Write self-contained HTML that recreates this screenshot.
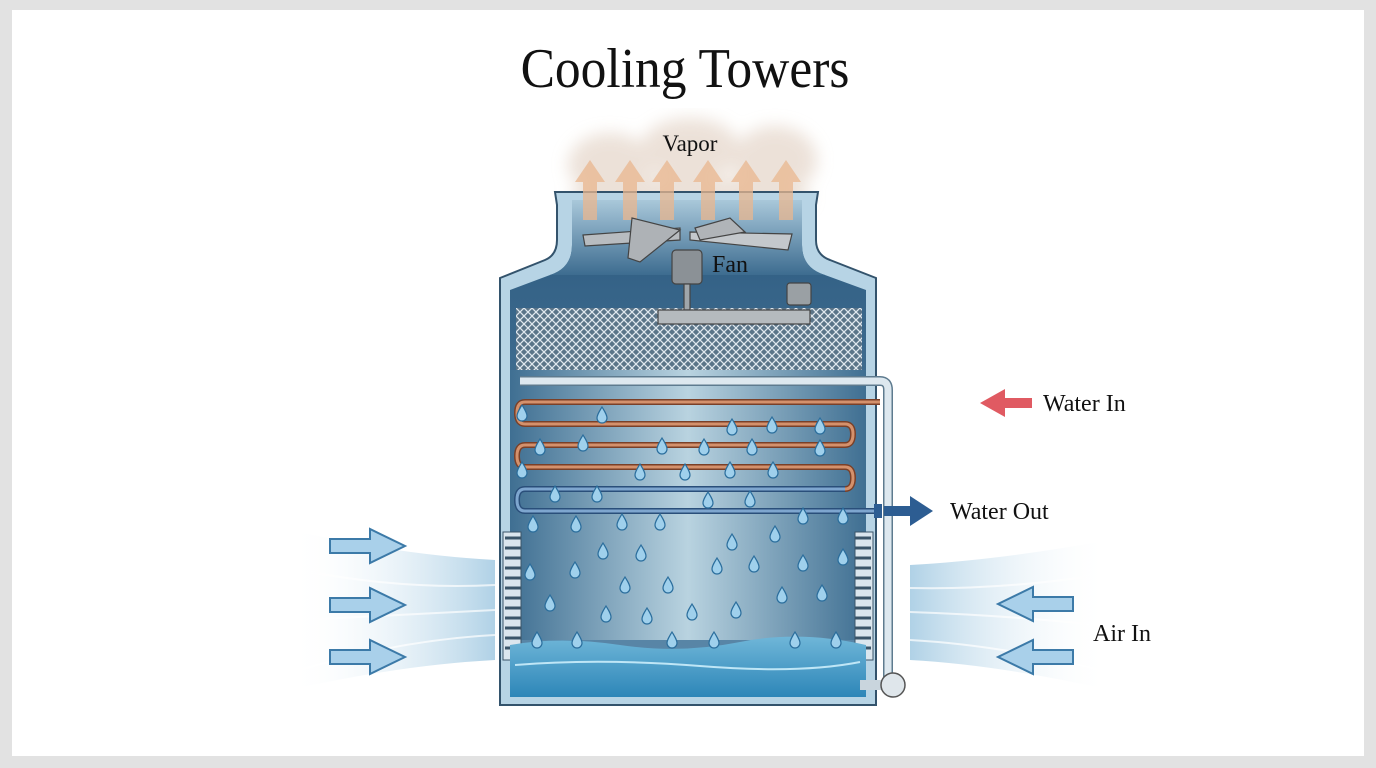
<!DOCTYPE html>
<html><head><meta charset="utf-8"><style>
html,body{margin:0;padding:0;background:#e2e2e2;}
svg{display:block}
text{font-family:"Liberation Serif","DejaVu Serif",serif;fill:#111}
</style></head><body>
<svg width="1376" height="768" viewBox="0 0 1376 768" xmlns="http://www.w3.org/2000/svg">
<defs>
<linearGradient id="inner" x1="0" x2="1" y1="0" y2="0">
<stop offset="0" stop-color="#3f6f92"/><stop offset="0.5" stop-color="#b9d3e0"/><stop offset="1" stop-color="#3f6f92"/>
</linearGradient>
<linearGradient id="upper" x1="0" x2="0" y1="0" y2="1">
<stop offset="0" stop-color="#2d5b80"/><stop offset="1" stop-color="#5d8aab"/>
</linearGradient>
<linearGradient id="neck" x1="0" x2="0" y1="0" y2="1">
<stop offset="0" stop-color="#a9c8da"/><stop offset="1" stop-color="#3d6c90"/>
</linearGradient>
<linearGradient id="water" x1="0" x2="0" y1="0" y2="1">
<stop offset="0" stop-color="#6fb6d8"/><stop offset="1" stop-color="#2d86b8"/>
</linearGradient>
<linearGradient id="windL" x1="0" x2="1"><stop offset="0" stop-color="#fff" stop-opacity="0"/><stop offset="1" stop-color="#9cc6e0"/></linearGradient>
<linearGradient id="windR" x1="1" x2="0"><stop offset="0" stop-color="#fff" stop-opacity="0"/><stop offset="1" stop-color="#9cc6e0"/></linearGradient>
<filter id="blur"><feGaussianBlur stdDeviation="8"/></filter>
<pattern id="mesh" width="8" height="8" patternUnits="userSpaceOnUse">
<rect width="8" height="8" fill="#5a7488"/><path d="M0 0L8 8M8 0L0 8" stroke="#dfe7ee" stroke-width="1.3"/>
</pattern>
<path id="drop" d="M0 -8 C3 -3 5 0 5 3 A5 5 0 0 1 -5 3 C-5 0 -3 -3 0 -8Z" fill="#9fd0ec" stroke="#2a6d9c" stroke-width="1.2"/>
<g id="arrR"><path d="M0 -7H40V-17L75 0L40 17V7H0Z" fill="#a9d0ea" stroke="#3c7aa8" stroke-width="2"/></g>
</defs>
<rect x="12" y="10" width="1352" height="746" fill="#fff"/>
<text x="685" y="87" font-size="56" text-anchor="middle" transform="translate(685 0) scale(0.92 1) translate(-685 0)">Cooling Towers</text>

<!-- wind -->
<g opacity="0.8">
<path d="M290 530 Q400 555 495 560 L495 660 Q400 665 290 690Z" fill="url(#windL)"/>
<path d="M1110 540 Q1000 560 910 565 L910 660 Q1000 665 1110 690Z" fill="url(#windR)"/>
</g>
<g stroke="#fff" stroke-width="2" opacity="0.7" fill="none">
<path d="M300 570 Q400 590 495 585"/><path d="M300 620 Q400 615 495 610"/><path d="M300 670 Q400 640 495 635"/>
<path d="M1100 575 Q1000 590 910 588"/><path d="M1100 625 Q1000 615 910 612"/><path d="M1100 670 Q1000 645 910 640"/>
</g>
<use href="#arrR" x="330" y="546"/><use href="#arrR" x="330" y="605"/><use href="#arrR" x="330" y="657"/>
<use href="#arrR" transform="translate(1073 604) scale(-1 1)"/><use href="#arrR" transform="translate(1073 657) scale(-1 1)"/>

<!-- vapor clouds -->
<g fill="#e6d8cc" opacity="0.75" filter="url(#blur)">
<ellipse cx="610" cy="165" rx="42" ry="32"/><ellipse cx="690" cy="150" rx="50" ry="32"/><ellipse cx="775" cy="160" rx="42" ry="34"/><ellipse cx="660" cy="198" rx="90" ry="20"/><ellipse cx="740" cy="198" rx="70" ry="20"/>
</g>

<!-- tower body -->
<path d="M500 278 L545 260 Q557 255 557 240 L557 205 L555 192 L818 192 L816 205 L816 240 Q816 255 830 260 L876 278 L876 705 L500 705Z" fill="#b7d4e5" stroke="#33536c" stroke-width="2"/>
<path d="M510 290 L550 275 Q572 268 572 245 L572 200 L802 200 L802 245 Q802 268 825 275 L866 290 L866 697 L510 697Z" fill="url(#upper)"/>
<path d="M572 200 L802 200 L802 245 Q802 268 825 275 L550 275 Q572 268 572 245Z" fill="url(#neck)"/>
<rect x="510" y="370" width="356" height="270" fill="url(#inner)"/>
<rect x="516" y="308" width="346" height="62" fill="url(#mesh)"/>
<!-- vapor arrows -->
<g fill="#eab78f" opacity="0.75">
<path d="M583 220V182H575L590 160L605 182H597V220Z"/><path d="M623 220V182H615L630 160L645 182H637V220Z"/><path d="M660 220V182H652L667 160L682 182H674V220Z"/><path d="M701 220V182H693L708 160L723 182H715V220Z"/><path d="M739 220V182H731L746 160L761 182H753V220Z"/><path d="M779 220V182H771L786 160L801 182H793V220Z"/>
</g>
<text x="690" y="151" font-size="23" text-anchor="middle">Vapor</text>
<!-- fan -->
<g stroke="#444" stroke-width="1.2">
<path d="M583 235 L680 228 L680 240 L585 246Z" fill="#b8bcc0"/>
<path d="M690 232 L792 234 L788 250 L690 240Z" fill="#c4c8cc"/>
<path d="M632 218 L680 230 L640 262 L628 258Z" fill="#aeb2b6"/>
<path d="M695 228 L730 218 L745 232 L700 240Z" fill="#b0b4b8"/>
<rect x="672" y="250" width="30" height="34" rx="4" fill="#8b9196"/>
<rect x="684" y="284" width="6" height="26" fill="#a0a6aa"/>
<rect x="658" y="310" width="152" height="14" fill="#b5babe"/>
<rect x="787" y="283" width="24" height="22" rx="3" fill="#9aa0a4"/>
</g>
<text x="712" y="272" font-size="24">Fan</text>
<!-- louvers -->
<g fill="#dbe6ee" stroke="#3b5569" stroke-width="1">
<rect x="503" y="532" width="18" height="128"/><rect x="855" y="532" width="18" height="128"/>
</g>
<g stroke="#3b5569" stroke-width="3">
<path d="M505 538H521M505 548H521M505 558H521M505 568H521M505 578H521M505 588H521M505 598H521M505 608H521M505 618H521M505 628H521M505 638H521M505 648H521"/>
<path d="M855 538H871M855 548H871M855 558H871M855 568H871M855 578H871M855 588H871M855 598H871M855 608H871M855 618H871M855 628H871M855 638H871M855 648H871"/>
</g>
<!-- water -->
<path d="M510 645 Q560 636 620 645 T740 642 T866 645 L866 697 L510 697Z" fill="url(#water)"/>
<path d="M515 665 Q600 658 700 666 T860 662" stroke="#bfe6f6" stroke-width="2" fill="none"/>
<!-- pipes -->
<path d="M520 381 H880 Q888 381 888 390 V685" stroke="#5e7b8f" stroke-width="10" fill="none"/>
<path d="M520 381 H880 Q888 381 888 390 V685" stroke="#dde8ef" stroke-width="7" fill="none"/>
<path d="M860 685 H888" stroke="#c9d5dd" stroke-width="10"/>
<circle cx="893" cy="685" r="12" fill="#dfe6eb" stroke="#555" stroke-width="1.5"/>
<path d="M880 402 H525 Q517 402 517 413 Q517 424 525 424 H845 Q853 424 853 434 Q853 445 845 445 H525 Q517 445 517 456 Q517 467 525 467 H845 Q853 467 853 478 Q853 489 845 489" stroke="#7a4028" stroke-width="6" fill="none"/>
<path d="M880 402 H525 Q517 402 517 413 Q517 424 525 424 H845 Q853 424 853 434 Q853 445 845 445 H525 Q517 445 517 456 Q517 467 525 467 H845 Q853 467 853 478 Q853 489 845 489" stroke="#d4916c" stroke-width="3" fill="none"/>
<path d="M845 489 H525 Q517 489 517 500 Q517 511 525 511 H880" stroke="#2a4f7a" stroke-width="6" fill="none"/>
<path d="M845 489 H525 Q517 489 517 500 Q517 511 525 511 H880" stroke="#7ea6cf" stroke-width="3" fill="none"/>
<!-- drops -->
<g>
<use href="#drop" x="522" y="413"/><use href="#drop" x="602" y="415"/><use href="#drop" x="732" y="427"/><use href="#drop" x="772" y="425"/><use href="#drop" x="820" y="426"/>
<use href="#drop" x="540" y="447"/><use href="#drop" x="583" y="443"/><use href="#drop" x="662" y="446"/><use href="#drop" x="704" y="447"/><use href="#drop" x="752" y="447"/><use href="#drop" x="820" y="448"/>
<use href="#drop" x="522" y="470"/><use href="#drop" x="640" y="472"/><use href="#drop" x="685" y="472"/><use href="#drop" x="730" y="470"/><use href="#drop" x="773" y="470"/>
<use href="#drop" x="555" y="494"/><use href="#drop" x="597" y="494"/><use href="#drop" x="708" y="500"/><use href="#drop" x="750" y="499"/>
<use href="#drop" x="533" y="524"/><use href="#drop" x="576" y="524"/><use href="#drop" x="622" y="522"/><use href="#drop" x="660" y="522"/><use href="#drop" x="803" y="516"/><use href="#drop" x="843" y="516"/>
<use href="#drop" x="732" y="542"/><use href="#drop" x="775" y="534"/><use href="#drop" x="603" y="551"/><use href="#drop" x="641" y="553"/>
<use href="#drop" x="530" y="572"/><use href="#drop" x="575" y="570"/><use href="#drop" x="717" y="566"/><use href="#drop" x="754" y="564"/><use href="#drop" x="803" y="563"/><use href="#drop" x="843" y="557"/>
<use href="#drop" x="625" y="585"/><use href="#drop" x="668" y="585"/><use href="#drop" x="550" y="603"/><use href="#drop" x="782" y="595"/><use href="#drop" x="822" y="593"/>
<use href="#drop" x="606" y="614"/><use href="#drop" x="647" y="616"/><use href="#drop" x="692" y="612"/><use href="#drop" x="736" y="610"/>
<use href="#drop" x="537" y="640"/><use href="#drop" x="577" y="640"/><use href="#drop" x="672" y="640"/><use href="#drop" x="714" y="640"/><use href="#drop" x="795" y="640"/><use href="#drop" x="836" y="640"/>
</g>
<!-- water in/out -->
<path d="M1032 398 H1005 V389 L980 403 L1005 417 V408 H1032Z" fill="#e05a62"/>
<text x="1043" y="411" font-size="24">Water In</text>
<rect x="874" y="504" width="8" height="14" fill="#2d5d92"/>
<path d="M884 506 H910 V496 L933 511 L910 526 V516 H884Z" fill="#2d5d92"/>
<text x="950" y="519" font-size="24">Water Out</text>
<text x="1093" y="641" font-size="24">Air In</text>
</svg>
</body></html>
